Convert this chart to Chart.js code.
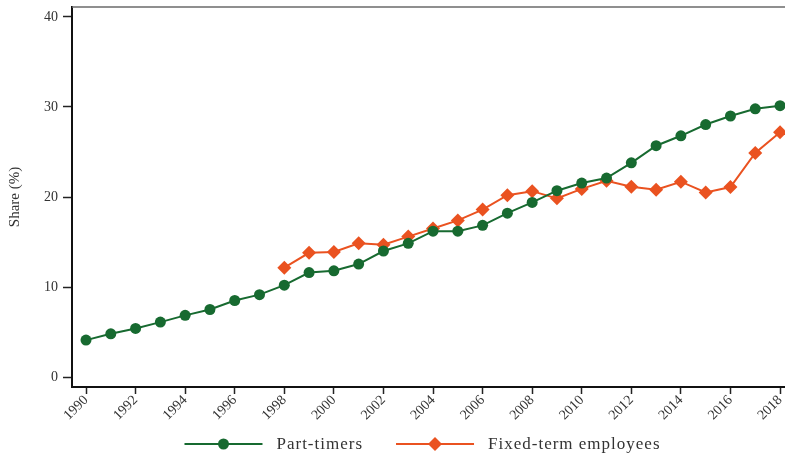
<!DOCTYPE html>
<html>
<head>
<meta charset="utf-8">
<script src="https://cdn.jsdelivr.net/npm/chart.js@4.4.1/dist/chart.umd.min.js"></script>
<style>
  html, body { margin: 0; padding: 0; background: #fff; }
  #wrap { width: 785px; height: 454px; }
</style>
</head>
<body>
<div id="wrap"><canvas id="chart" width="785" height="454"></canvas></div>
<script>
(function () {
  "use strict";

  var years = [1990, 1991, 1992, 1993, 1994, 1995, 1996, 1997, 1998, 1999,
    2000, 2001, 2002, 2003, 2004, 2005, 2006, 2007, 2008, 2009,
    2010, 2011, 2012, 2013, 2014, 2015, 2016, 2017, 2018];
  var partTimers = [4.1, 4.8, 5.4, 6.1, 6.85, 7.5, 8.5, 9.15, 10.2, 11.6,
    11.8, 12.55, 14.0, 14.85, 16.2, 16.2, 16.85, 18.2, 19.4, 20.7,
    21.55, 22.1, 23.8, 25.7, 26.8, 28.05, 29.0, 29.8, 30.15];

  var fixedYears = [1998, 1999, 2000, 2001, 2002, 2003, 2004, 2005, 2006, 2007,
    2008, 2009, 2010, 2011, 2012, 2013, 2014, 2015, 2016, 2017, 2018];
  var fixedTerm = [12.15, 13.8, 13.9, 14.85, 14.7, 15.6, 16.5, 17.4, 18.6, 20.2,
    20.65, 19.85, 20.9, 21.8, 21.15, 20.8, 21.7, 20.5, 21.1, 24.9, 27.2];

  var xTicks = [1990, 1992, 1994, 1996, 1998, 2000, 2002, 2004, 2006, 2008,
    2010, 2012, 2014, 2016, 2018];
  var yTicks = [0, 10, 20, 30, 40];

  var GREEN = "#176a30";
  var ORANGE = "#ea5220";
  var FONT = '"Liberation Serif", "DejaVu Serif", serif';

  function toPoints(xs, ys) {
    return xs.map(function (x, i) {
      return { x: x, y: ys[i] };
    });
  }

  function setTicks(values) {
    return function (scale) {
      scale.ticks = values.map(function (v) {
        return { value: v };
      });
    };
  }

  function noEdgePadding(scale) {
    scale.paddingTop = 0;
    scale.paddingBottom = 0;
    scale.paddingLeft = 0;
    scale.paddingRight = 0;
  }

  // thin line across the top of the plot area
  var topFrame = {
    id: "topFrame",
    afterDraw: function (chart) {
      var area = chart.chartArea;
      var ctx = chart.ctx;
      ctx.save();
      ctx.strokeStyle = "#6a6a6a";
      ctx.lineWidth = 1.5;
      ctx.beginPath();
      ctx.moveTo(area.left, area.top);
      ctx.lineTo(area.right, area.top);
      ctx.stroke();
      ctx.restore();
    }
  };

  // legend with a line sample and the marker in its middle
  var lineLegend = {
    id: "lineLegend",
    afterDraw: function (chart) {
      var ctx = chart.ctx;
      var area = chart.chartArea;
      var lineLen = 78;
      var gap = 14;
      var itemGap = 33;
      ctx.save();
      ctx.font = "17px " + FONT;
      if ("letterSpacing" in ctx) {
        ctx.letterSpacing = "1px";
      }
      var items = chart.data.datasets.map(function (ds) {
        return {
          label: ds.label,
          color: ds.borderColor,
          style: ds.pointStyle,
          radius: ds.pointRadius,
          width: ctx.measureText(ds.label).width
        };
      });
      var total = 0;
      items.forEach(function (it, i) {
        total += lineLen + gap + it.width + (i > 0 ? itemGap : 0);
      });
      var x = (area.left + area.right) / 2 - total / 2 - 6;
      var y = chart.height - 10;
      items.forEach(function (it) {
        ctx.strokeStyle = it.color;
        ctx.lineWidth = 2;
        ctx.beginPath();
        ctx.moveTo(x, y);
        ctx.lineTo(x + lineLen, y);
        ctx.stroke();
        var cx = x + lineLen / 2;
        ctx.fillStyle = it.color;
        ctx.beginPath();
        if (it.style === "rectRot") {
          ctx.moveTo(cx - it.radius, y);
          ctx.lineTo(cx, y - it.radius);
          ctx.lineTo(cx + it.radius, y);
          ctx.lineTo(cx, y + it.radius);
          ctx.closePath();
        } else {
          ctx.arc(cx, y, it.radius, 0, Math.PI * 2);
        }
        ctx.fill();
        ctx.fillStyle = "#333";
        ctx.textBaseline = "middle";
        ctx.textAlign = "left";
        ctx.fillText(it.label, x + lineLen + gap, y + 1);
        x += lineLen + gap + it.width + itemGap;
      });
      ctx.restore();
    }
  };

  var tickFont = { family: FONT, size: 14 };

  new Chart(document.getElementById("chart").getContext("2d"), {
    type: "line",
    data: {
      datasets: [
        {
          label: "Part-timers",
          data: toPoints(years, partTimers),
          borderColor: GREEN,
          backgroundColor: GREEN,
          borderWidth: 2,
          pointStyle: "circle",
          pointRadius: 5.5,
          pointBorderWidth: 0,
          tension: 0
        },
        {
          label: "Fixed-term employees",
          data: toPoints(fixedYears, fixedTerm),
          borderColor: ORANGE,
          backgroundColor: ORANGE,
          borderWidth: 2,
          pointStyle: "rectRot",
          pointRadius: 7,
          pointBorderWidth: 0,
          tension: 0
        }
      ]
    },
    options: {
      responsive: false,
      animation: false,
      devicePixelRatio: 1,
      layout: {
        autoPadding: false,
        padding: { top: 7, left: 0, right: 0, bottom: 27 }
      },
      plugins: {
        legend: { display: false },
        tooltip: { enabled: false }
      },
      scales: {
        x: {
          type: "linear",
          min: 1989.435,
          max: 2018.2,
          afterBuildTicks: setTicks(xTicks),
          afterFit: function (scale) {
            scale.height = 40;
            noEdgePadding(scale);
          },
          ticks: {
            autoSkip: false,
            minRotation: 45,
            maxRotation: 45,
            padding: -2,
            color: "#333",
            font: tickFont,
            callback: function (v) {
              return String(v);
            }
          },
          grid: {
            drawOnChartArea: false,
            drawTicks: true,
            tickLength: 7,
            tickWidth: 1.5,
            tickColor: "#222"
          },
          border: { display: true, color: "#111", width: 2 }
        },
        y: {
          min: -1.11,
          max: 41.11,
          afterBuildTicks: setTicks(yTicks),
          afterFit: function (scale) {
            scale.width = 72;
            noEdgePadding(scale);
          },
          ticks: {
            padding: 5,
            color: "#333",
            font: tickFont
          },
          title: {
            display: true,
            text: "Share (%)",
            color: "#333",
            font: { family: FONT, size: 15 },
            padding: { top: 6, bottom: 0 }
          },
          grid: {
            drawOnChartArea: false,
            drawTicks: true,
            tickLength: 9,
            tickWidth: 1.5,
            tickColor: "#222"
          },
          border: { display: true, color: "#111", width: 2 }
        }
      }
    },
    plugins: [topFrame, lineLegend]
  });
})();
</script>
</body>
</html>
